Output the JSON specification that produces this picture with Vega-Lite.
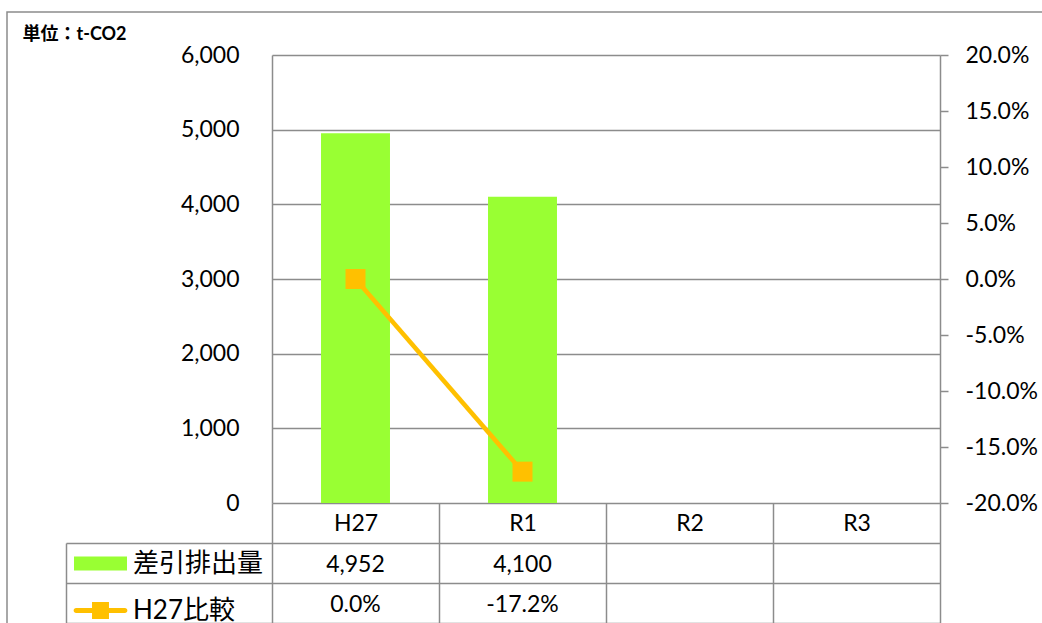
{
  "$schema": "https://vega.github.io/schema/vega-lite/v6.json",
  "width": 1045,
  "height": 621,
  "autosize": {"type": "none"},
  "padding": {"left": 7, "top": 12, "right": -10, "bottom": -10},
  "background": "white",
  "config": {
    "view": {"stroke": "#8c8c8c", "strokeWidth": 1.5},
    "font": "Lato",
    "locale": {"number": {"decimal": ".", "thousands": ",", "grouping": [3], "currency": ["$", ""], "minus": "-"}},
    "axis": {
      "labelFont": "Lato, Noto Sans CJK JP",
      "labelFontSize": 23,
      "labelColor": "#000000",
      "domainColor": "#8c8c8c",
      "tickColor": "#8c8c8c",
      "gridColor": "#8c8c8c",
      "domainWidth": 1.5,
      "tickWidth": 1.5,
      "gridWidth": 1.5,
      "gridOpacity": 1
    }
  },
  "datasets": {
    "main": [
      {"cat": "H27", "emission": 4952, "ratio": 0.0},
      {"cat": "R1", "emission": 4100, "ratio": -0.172}
    ]
  },
  "data": {"name": "main"},
  "resolve": {
    "scale": {"x": "independent", "y": "independent"},
    "axis": {"x": "independent", "y": "independent"}
  },
  "layer": [
    {
      "mark": {"type": "bar", "width": {"band": 0.413}},
      "encoding": {
        "x": {
          "field": "cat", "type": "nominal", "sort": null,
          "scale": {"domain": ["H27", "R1", "R2", "R3"], "range": [265, 933], "paddingInner": 0, "paddingOuter": 0},
          "axis": {"orient": "bottom", "offset": -130, "title": null, "domain": false, "ticks": true, "tickBand": "extent", "tickSize": 120, "labelPadding": -100, "labelBaseline": "middle", "labelAngle": 0, "grid": false}
        },
        "y": {
          "field": "emission", "type": "quantitative",
          "scale": {"domain": [0, 6000], "range": [491, 43], "nice": false},
          "axis": {
            "orient": "left", "offset": -265, "values": [0, 1000, 2000, 3000, 4000, 5000, 6000], "format": ",.0f",
            "ticks": false, "domain": true, "grid": true, "labelPadding": 33, "labelBaseline": "middle",
            "title": "単位：t-CO2", "titleAngle": 0, "titleX": -250, "titleY": 13, "titleAlign": "left", "titleBaseline": "top",
            "titleFontSize": 18, "titleFontWeight": "bold", "titleFont": "Lato, Noto Sans CJK JP", "titleColor": "#000000"
          }
        },
        "color": {
          "datum": "差引排出量", "type": "nominal",
          "scale": {"domain": ["差引排出量", "H27比較"], "range": ["#99ff33", "#ffc000"]},
          "legend": {
            "orient": "none", "legendX": 67, "legendY": 525, "title": null, "direction": "vertical",
            "labelFont": "Lato, Noto Sans CJK JP", "labelFontSize": 26, "labelColor": "#000000", "labelOffset": 6,
            "rowPadding": 7, "padding": 0, "symbolSize": 2809, "symbolType": "M-1,-0.26H1V0.26H-1Z",
            "encode": {
              "symbols": {
                "update": {
                  "shape": {"signal": "datum.value === 'H27比較' ? 'M-0.92,-0.094H-0.32V-0.32H0.32V-0.094H0.92A0.094,0.094,0,0,1,0.92,0.094H0.32V0.32H-0.32V0.094H-0.92A0.094,0.094,0,0,1,-0.92,-0.094Z' : 'M-1,-0.26H1V0.26H-1Z'"},
                  "fill": {"signal": "scale('color', datum.value)"},
                  "stroke": {"value": "transparent"},
                  "strokeWidth": {"value": 0},
                  "opacity": {"value": 1},
                  "size": {"value": 2809}
                }
              }
            }
          }
        }
      }
    },
    {
      "mark": {"type": "line", "strokeWidth": 4.5, "point": {"filled": true, "shape": "square", "size": 400}},
      "encoding": {
        "x": {
          "field": "cat", "type": "nominal", "sort": null,
          "scale": {"domain": ["H27", "R1", "R2", "R3"], "range": [265, 933], "paddingInner": 0, "paddingOuter": 0},
          "axis": null
        },
        "y": {
          "field": "ratio", "type": "quantitative",
          "scale": {"domain": [-0.2, 0.2], "range": [491, 43], "nice": false, "zero": false},
          "axis": {"orient": "right", "offset": -112, "values": [-0.2, -0.15, -0.1, -0.05, 0, 0.05, 0.1, 0.15, 0.2], "format": ".1%", "ticks": true, "tickSize": 8, "domain": true, "grid": false, "labelPadding": 17, "labelBaseline": "middle", "title": null}
        },
        "color": {"datum": "H27比較", "type": "nominal"}
      }
    },
    {
      "mark": {"type": "text", "fontSize": 23, "font": "Lato", "color": "#000000", "dy": 2},
      "encoding": {
        "x": {
          "field": "cat", "type": "nominal", "sort": null,
          "scale": {"domain": ["H27", "R1", "R2", "R3"], "range": [265, 933], "paddingInner": 0, "paddingOuter": 0},
          "axis": null
        },
        "y": {
          "datum": "差引排出量", "type": "nominal",
          "scale": {"domain": ["差引排出量", "H27比較"], "range": [531, 611], "paddingInner": 0, "paddingOuter": 0},
          "axis": {"orient": "left", "offset": -59, "domain": true, "ticks": true, "tickBand": "extent", "tickSize": -874, "labels": false, "grid": false, "title": null}
        },
        "text": {"field": "emission", "type": "quantitative", "format": ",.0f"}
      }
    },
    {
      "mark": {"type": "text", "fontSize": 23, "font": "Lato", "color": "#000000", "dy": 2},
      "encoding": {
        "x": {
          "field": "cat", "type": "nominal", "sort": null,
          "scale": {"domain": ["H27", "R1", "R2", "R3"], "range": [265, 933], "paddingInner": 0, "paddingOuter": 0},
          "axis": null
        },
        "y": {
          "datum": "H27比較", "type": "nominal",
          "scale": {"domain": ["差引排出量", "H27比較"], "range": [531, 611], "paddingInner": 0, "paddingOuter": 0},
          "axis": null
        },
        "text": {"field": "ratio", "type": "quantitative", "format": ".1%"}
      }
    }
  ]
}
